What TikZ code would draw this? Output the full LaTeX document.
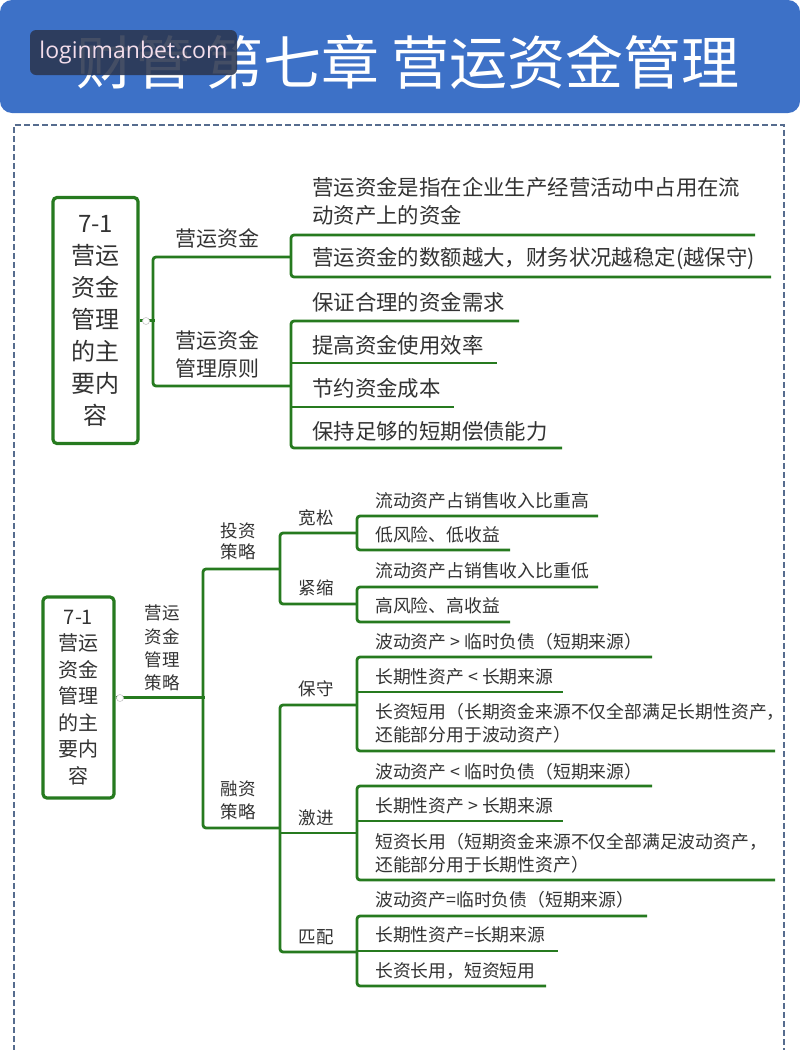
\documentclass[tikz,border=0pt]{standalone}
\usepackage{fontspec}
\setmainfont{Noto Sans CJK SC}
\newfontfamily\wmfont{Open Sans}
\usetikzlibrary{calc}

\definecolor{headblue}{HTML}{3D71C7}
\definecolor{mapgreen}{HTML}{267A1F}
\definecolor{inkgray}{HTML}{333333}
\definecolor{rimblue}{HTML}{566C8E}
\definecolor{wmslate}{HTML}{2B3650}
\definecolor{wmpink}{HTML}{F3DDEB}

\begin{document}
\begin{tikzpicture}[x=1pt, y=-1pt,
    branch/.style={mapgreen, line width=2.8pt, rounded corners=3pt},
    rootbox/.style={draw=mapgreen, line width=3.2pt, rounded corners=4pt, fill=white, text=inkgray, align=center, inner sep=0pt},
    bigtopic/.style={anchor=west, text=inkgray, inner sep=0pt, align=left, font=\fontsize{21.4}{28}\selectfont},
    smalltopic/.style={anchor=west, text=inkgray, inner sep=0pt, align=left, font=\fontsize{17.8}{23}\selectfont},
    biglabel/.style={text=inkgray, inner sep=0pt, align=center, font=\fontsize{21}{28}\selectfont},
    smalllabel/.style={text=inkgray, inner sep=0pt, align=center, font=\fontsize{17.5}{22}\selectfont},
    foldicon/.style={circle, draw=gray!45, fill=white, line width=0.6pt, minimum size=7pt, inner sep=0pt}]
  \useasboundingbox (0,0) rectangle (800,1050);
  \fill[white] (0,0) rectangle (800,1050);

  % Header
  \fill[headblue, rounded corners=12pt] (0,0) rectangle (800,113);
  \node[text=white, font=\fontsize{58}{58}\selectfont] (title) at (408,62) {财管 第七章 营运资金管理};
  \node[fill=wmslate, fill opacity=0.88, text opacity=1, text=wmpink, rounded corners=6pt,
        minimum width=207, minimum height=45, inner sep=0pt,
        font=\wmfont\fontsize{23}{23}\selectfont] (mark) at (133.5,52.5) {loginmanbet.com};
  \draw[rimblue, line width=1.8pt, dash pattern=on 6pt off 3pt] (14,1060) -- (14,125) -- (784,125) -- (784,1060);

  % Coordinates, upper map
  \coordinate (wcA) at (291,257);
  \coordinate (wcB) at (291,386);
  \coordinate (a1s) at (291,235); \coordinate (a1e) at (755,235);
  \coordinate (a2s) at (291,277); \coordinate (a2e) at (771,277);
  \coordinate (b1s) at (291,321); \coordinate (b1e) at (519,321);
  \coordinate (b2s) at (291,363); \coordinate (b2e) at (497,363);
  \coordinate (b3s) at (291,407); \coordinate (b3e) at (454,407);
  \coordinate (b4s) at (291,448); \coordinate (b4e) at (562,448);

  % Nodes, upper map
  \node[rootbox, minimum width=85, minimum height=246, font=\fontsize{24}{32}\selectfont] (root1) at (95.5,320.5)
    {7-1\\营运\\资金\\管理\\的主\\要内\\容};
  \node[biglabel] (labA) at (217,238) {营运资金};
  \node[biglabel] (labB) at (217,354) {营运资金\\管理原则};
  \node[bigtopic] (a1) at (312,201) {营运资金是指在企业生产经营活动中占用在流\\动资产上的资金};
  \node[bigtopic] (a2) at (312,259) {营运资金的数额越大，财务状况越稳定(越保守)};
  \node[bigtopic] (b1) at (312,302) {保证合理的资金需求};
  \node[bigtopic] (b2) at (312,345) {提高资金使用效率};
  \node[bigtopic] (b3) at (312,388) {节约资金成本};
  \node[bigtopic] (b4) at (312,431) {保持足够的短期偿债能力};

  % Drawing, upper map
  \draw[branch] (root1.east) -- ++(15,0);
  \draw[branch] (wcA) -- ++(-138,0) |- (wcB);
  \draw[branch] (a1e) -- (a1s) -- (a2s) -- (a2e);
  \draw[branch] (b1e) -- (b1s) -- (b4s) -- (b4e);
  \draw[branch] (b2s) -- (b2e);
  \draw[branch] (b3s) -- (b3e);
  \node[foldicon] (f1) at (146,321) {};

  % Coordinates, lower map
  \coordinate (touzi) at (280,569);
  \coordinate (rongzi) at (280,828);
  \coordinate (kuan) at (357,533);
  \coordinate (jin) at (357,604);
  \coordinate (baoshou) at (357,705);
  \coordinate (jijin) at (357,833);
  \coordinate (pipei) at (357,952);
  \coordinate (k1s) at (357,516); \coordinate (k1e) at (598,516);
  \coordinate (k2s) at (357,550); \coordinate (k2e) at (510,550);
  \coordinate (j1s) at (357,587); \coordinate (j1e) at (598,587);
  \coordinate (j2s) at (357,622); \coordinate (j2e) at (510,622);
  \coordinate (c1s) at (357,657); \coordinate (c1e) at (652,657);
  \coordinate (c2s) at (357,692); \coordinate (c2e) at (563,692);
  \coordinate (c3s) at (357,751); \coordinate (c3e) at (775,751);
  \coordinate (g1s) at (357,786); \coordinate (g1e) at (652,786);
  \coordinate (g2s) at (357,821); \coordinate (g2e) at (563,821);
  \coordinate (g3s) at (357,880); \coordinate (g3e) at (775,880);
  \coordinate (p1s) at (357,916); \coordinate (p1e) at (647,916);
  \coordinate (p2s) at (357,951); \coordinate (p2e) at (558,951);
  \coordinate (p3s) at (357,986); \coordinate (p3e) at (546,986);

  % Nodes, lower map
  \node[rootbox, minimum width=71, minimum height=201, font=\fontsize{20}{26.5}\selectfont] (root2) at (78.5,697.5)
    {7-1\\营运\\资金\\管理\\的主\\要内\\容};
  \node[smalllabel, font=\fontsize{17.5}{23.3}\selectfont] (celue) at (162,648) {营运\\资金\\管理\\策略};
  \node[smalllabel, font=\fontsize{17.5}{21}\selectfont] (labT) at (238,541.5) {投资\\策略};
  \node[smalllabel, font=\fontsize{17.5}{23}\selectfont] (labR) at (238,800.5) {融资\\策略};
  \node[smalllabel] (labK) at (316,518) {宽松};
  \node[smalllabel] (labJ) at (316,588) {紧缩};
  \node[smalllabel] (labC) at (316,689) {保守};
  \node[smalllabel] (labG) at (316,818) {激进};
  \node[smalllabel] (labP) at (316,937) {匹配};
  \node[smalltopic] (k1) at (375,501) {流动资产占销售收入比重高};
  \node[smalltopic] (k2) at (375,535) {低风险、低收益};
  \node[smalltopic] (j1) at (375,571) {流动资产占销售收入比重低};
  \node[smalltopic] (j2) at (375,606) {高风险、高收益};
  \node[smalltopic] (c1) at (375,642) {波动资产 > 临时负债（短期来源）};
  \node[smalltopic] (c2) at (375,677) {长期性资产 < 长期来源};
  \node[smalltopic] (c3) at (375,723.5) {长资短用（长期资金来源不仅全部满足长期性资产，\\还能部分用于波动资产）};
  \node[smalltopic] (g1) at (375,772) {波动资产 < 临时负债（短期来源）};
  \node[smalltopic] (g2) at (375,806) {长期性资产 > 长期来源};
  \node[smalltopic] (g3) at (375,853.5) {短资长用（短期资金来源不仅全部满足波动资产，\\还能部分用于长期性资产）};
  \node[smalltopic] (p1) at (375,900) {波动资产=临时负债（短期来源）};
  \node[smalltopic] (p2) at (375,935) {长期性资产=长期来源};
  \node[smalltopic] (p3) at (375,971) {长资长用，短资短用};

  % Drawing, lower map
  \draw[branch] (root2.east) -- ++(89,0);
  \draw[branch] (touzi) -- ++(-77,0) |- (rongzi);
  \draw[branch] (kuan) -- ++(-77,0) |- (jin);
  \draw[branch] (baoshou) -- ++(-77,0) |- (pipei);
  \draw[branch] (jijin) -- ++(-77,0);
  \draw[branch] (k1e) -- (k1s) -- (k2s) -- (k2e);
  \draw[branch] (j1e) -- (j1s) -- (j2s) -- (j2e);
  \draw[branch] (c1e) -- (c1s) -- (c3s) -- (c3e);
  \draw[branch] (c2s) -- (c2e);
  \draw[branch] (g1e) -- (g1s) -- (g3s) -- (g3e);
  \draw[branch] (g2s) -- (g2e);
  \draw[branch] (p1e) -- (p1s) -- (p3s) -- (p3e);
  \draw[branch] (p2s) -- (p2e);
  \node[foldicon] (f2) at (120,698) {};
\end{tikzpicture}
\end{document}
